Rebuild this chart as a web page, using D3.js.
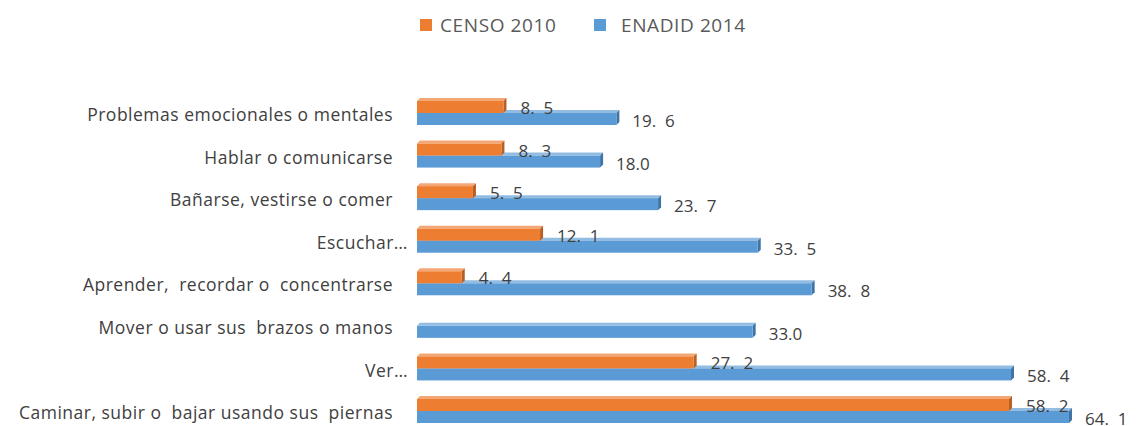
<!DOCTYPE html>
<html>
<head>
<meta charset="utf-8">
<script src="https://cdn.jsdelivr.net/npm/d3@7"></script>
<style>
  body { margin: 0; background: #fff; }
  text { font-family: "Open Sans", sans-serif; white-space: pre; }
</style>
</head>
<body>
<div id="chart"></div>
<script>
// categories, top to bottom
const categories = [
    'Problemas emocionales o mentales',
    'Hablar o comunicarse',
    'Bañarse, vestirse o comer',
    'Escuchar…',
    'Aprender,  recordar o  concentrarse',
    'Mover o usar sus  brazos o manos',
    'Ver…',
    'Caminar, subir o  bajar usando sus  piernas'
];
const censo2010 = [8.5, 8.3, 5.5, 12.1, 4.4, null, 27.2, 58.2];
const enadid2014 = [19.6, 18.0, 23.7, 33.5, 38.8, 33.0, 58.4, 64.1];
// value labels as printed in the source
const censoLabels = ['8.  5', '8.  3', '5.  5', '12.  1', '4.  4', '', '27.  2', '58.  2'];
const enadidLabels = ['19.  6', '18.0', '23.  7', '33.  5', '38.  8', '33.0', '58.  4', '64.  1'];
const seriesNames = ['CENSO 2010', 'ENADID 2014'];
const seriesColors = ['#ED7D31', '#5B9BD5'];
const sideColors = ['#B85F24', '#3F74A6'];
const topColors = ['#F3A775', '#93BCE3'];

const width = 1136, height = 426;
const depth = 3, barH = 12;

const svg = d3.select('#chart').append('svg')
    .attr('width', width)
    .attr('height', height);

svg.append('rect').attr('width', width).attr('height', height).attr('fill', '#fff');

const x = d3.scaleLinear().domain([0, 70]).range([417, 1129]);
const y = d3.scalePoint().domain(categories).range([113, 411]);

// legend
const legend = svg.append('g');
const legendTextX = [440, 621];
seriesNames.forEach((name, i) => {
    legend.append('rect')
        .attr('x', legendTextX[i] - (i ? 27 : 20)).attr('y', 19)
        .attr('width', 12).attr('height', 12)
        .attr('fill', seriesColors[i]);
    legend.append('text')
        .attr('x', legendTextX[i]).attr('y', 25)
        .attr('dy', '0.35em')
        .attr('font-size', 19)
        .attr('fill', '#595959')
        .attr('letter-spacing', 0.6)
        .text(name);
});

// category labels
svg.append('g').selectAll('text')
    .data(categories)
    .join('text')
    .attr('x', d => d.endsWith('…') ? 408 : 393)
    .attr('y', d => y(d) + 2)
    .attr('dy', '0.35em')
    .attr('text-anchor', 'end')
    .attr('font-size', 17.5)
    .attr('letter-spacing', 0.5)
    .attr('fill', '#404040')
    .text(d => d);

function bar3d(g, v, y0, s) {
    const x0 = x(0), x1 = x(v), y1 = y0 + barH;
    g.append('polygon')
        .attr('points', [[x0, y0], [x0 + depth, y0 - depth], [x1 + depth, y0 - depth], [x1, y0]].join(' '))
        .attr('fill', topColors[s]);
    g.append('polygon')
        .attr('points', [[x1, y0], [x1 + depth, y0 - depth], [x1 + depth, y1 - depth], [x1, y1]].join(' '))
        .attr('fill', sideColors[s]);
    g.append('rect')
        .attr('x', x0).attr('y', y0)
        .attr('width', x1 - x0).attr('height', barH)
        .attr('fill', seriesColors[s]);
}

const bars = svg.append('g');
categories.forEach((c, i) => {
    const cy = y(c);
    // blue first so the orange bar sits over its top face
    bar3d(bars, enadid2014[i], cy, 1);
    if (censo2010[i] != null) bar3d(bars, censo2010[i], cy - barH, 0);
});

// value labels
const labels = svg.append('g')
    .attr('font-size', 17)
    .attr('fill', '#404040');
categories.forEach((c, i) => {
    const cy = y(c);
    if (censo2010[i] != null) {
        labels.append('text')
            .attr('x', x(censo2010[i]) + 17)
            .attr('y', cy - 5)
            .attr('dy', '0.35em')
            .text(censoLabels[i]);
    }
    labels.append('text')
        .attr('x', x(enadid2014[i]) + 16)
        .attr('y', cy + 8)
        .attr('dy', '0.35em')
        .text(enadidLabels[i]);
});
</script>
</body>
</html>
